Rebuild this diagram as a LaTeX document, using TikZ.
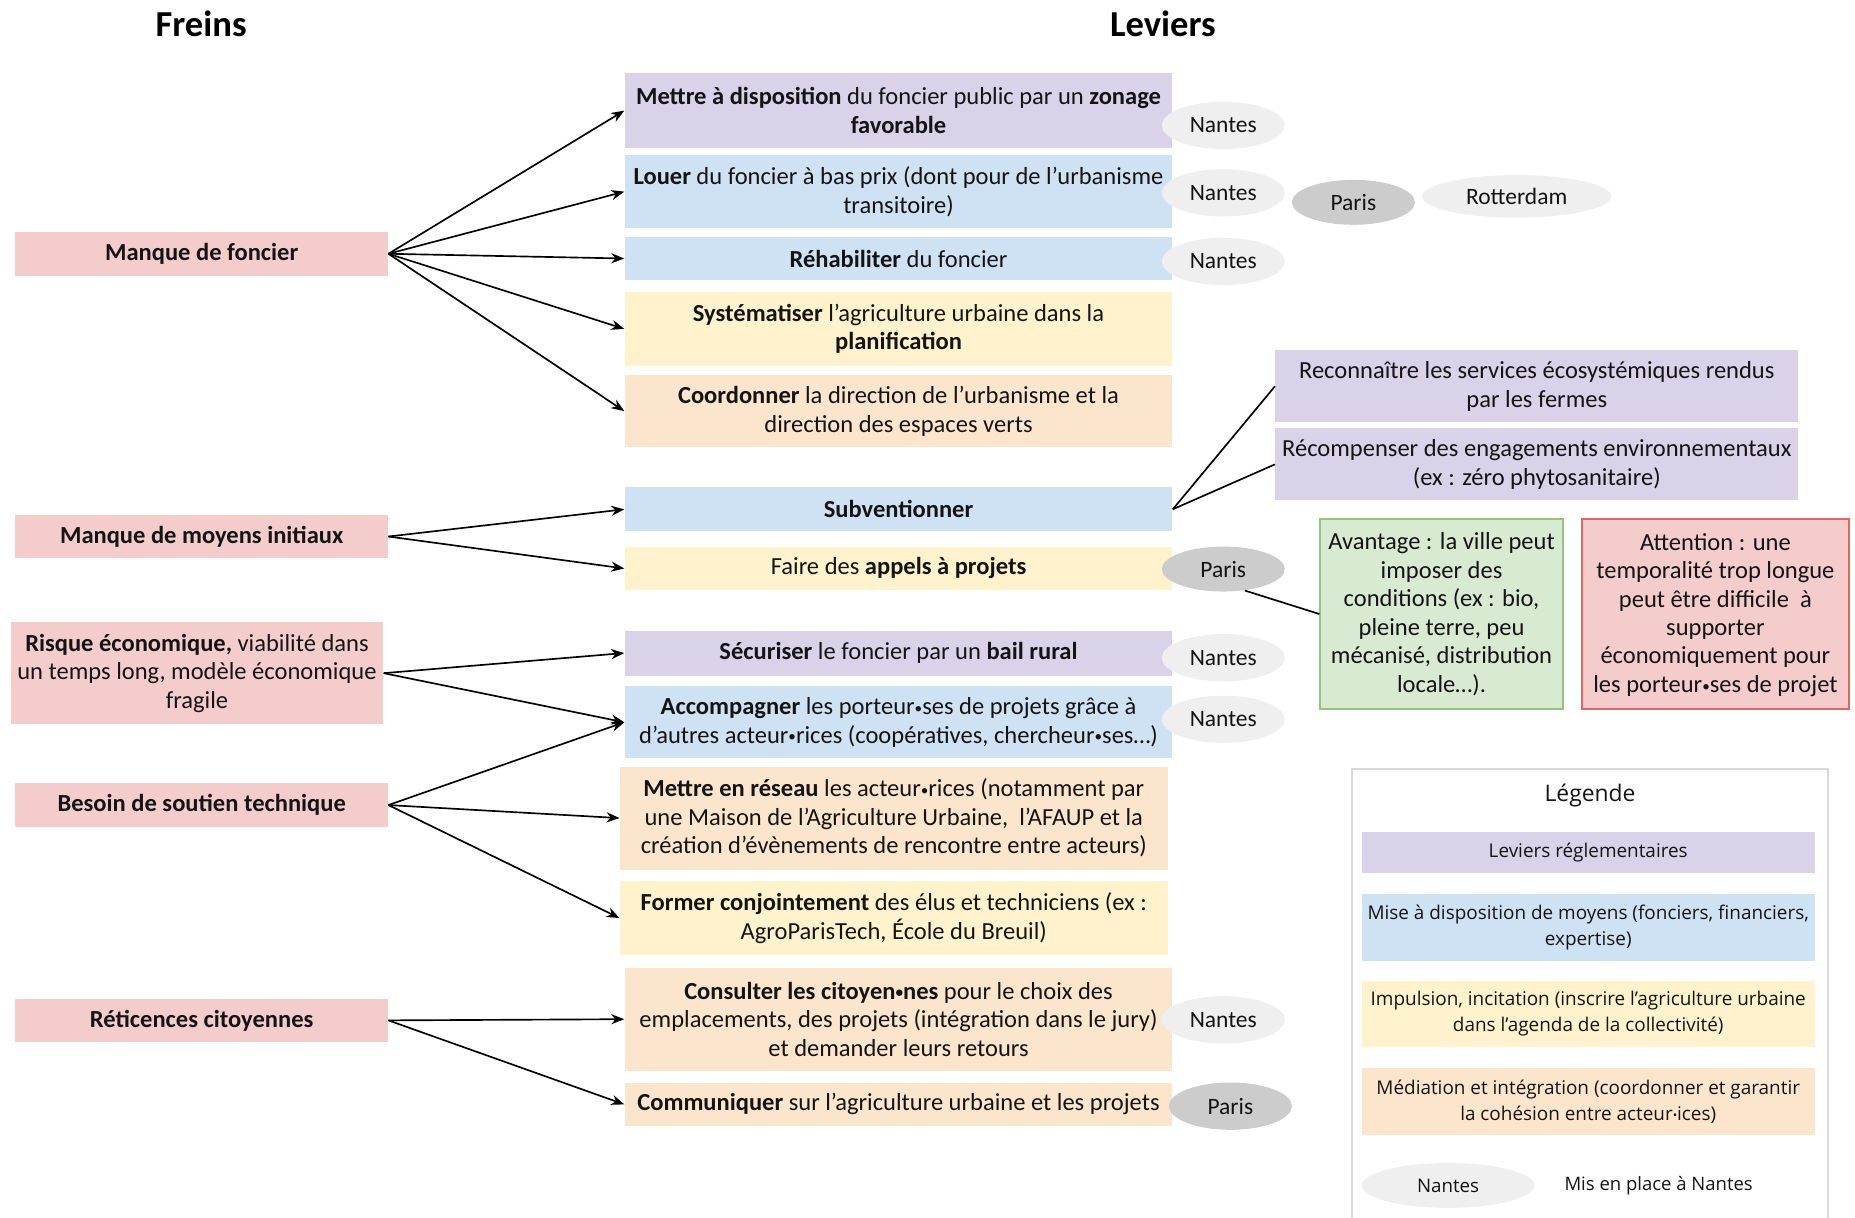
\documentclass[tikz,border=0pt]{standalone}
\usepackage{fontspec}
\setmainfont{Carlito}
\newfontfamily\legendfont{Open Sans}
\usepackage{tikz}
\usetikzlibrary{arrows.meta,positioning,shapes.geometric}
\newcommand{\midpt}{\raisebox{0.12ex}{\scalebox{0.62}{•}}}
\definecolor{freinc}{HTML}{F4CCCC}
\definecolor{reglec}{HTML}{D9D2E9}
\definecolor{moyenc}{HTML}{CFE2F3}
\definecolor{impulsc}{HTML}{FFF2CC}
\definecolor{mediac}{HTML}{FCE5CD}
\definecolor{avantc}{HTML}{D9EAD3}
\definecolor{avantbordc}{HTML}{93C47D}
\definecolor{attentbordc}{HTML}{E06666}
\definecolor{nantesc}{HTML}{EFEFEF}
\definecolor{parisc}{HTML}{CCCCCC}
\definecolor{legendc}{HTML}{D9D9D9}
\tikzset{
  basenode/.style={rectangle, inner sep=0pt, align=center, text=black!92,
    minimum width=9.26cm, font=\fontsize{11.8}{13.7}\selectfont},
  freinnode/.style={basenode, fill=freinc, minimum width=6.3cm, minimum height=0.74cm},
  reglenode/.style={basenode, fill=reglec},
  moyennode/.style={basenode, fill=moyenc},
  impulsnode/.style={basenode, fill=impulsc},
  medianode/.style={basenode, fill=mediac},
  villenode/.style={ellipse, inner sep=0pt, fill=nantesc, text=black!92,
    minimum width=2.08cm, minimum height=0.8cm, font=\fontsize{11.3}{13.7}\selectfont},
  parisnode/.style={villenode, fill=parisc},
  titlenode/.style={font=\fontsize{17.6}{20}\selectfont\bfseries},
  legendnode/.style={rectangle, inner sep=0pt, align=center, text=black!92,
    minimum width=7.66cm, minimum height=1.12cm, font=\legendfont\fontsize{9.1}{12.6}\selectfont},
  arrowedge/.style={-{Stealth[length=2.2mm, width=1.7mm]}, draw=black, line width=0.8pt},
  plainedge/.style={draw=black, line width=0.8pt},
}
\begin{document}
\begin{tikzpicture}[x=0.02cm, y=-0.02cm]
  \useasboundingbox (0,0) rectangle (1568,1029);
  \node[titlenode] (freins) at (170,20) {Freins};
  \node[titlenode] (leviers) at (983,20) {Leviers};

  \node[freinnode] (foncier) at (170.5,214.5) {\textbf{Manque de foncier}};
  \node[freinnode] (moyens) at (170.5,453.5) {\textbf{Manque de moyens initiaux}};
  \node[freinnode, minimum height=1.72cm] (risque) at (166.5,569) {\textbf{Risque économique,} viabilité dans\\un temps long, modèle économique\\fragile};
  \node[freinnode] (soutien) at (170.5,680.5) {\textbf{Besoin de soutien technique}};
  \node[freinnode] (reticence) at (170.5,862.5) {\textbf{Réticences citoyennes}};

  \node[reglenode, minimum height=1.26cm] (zonage) at (759.5,93.5) {\textbf{Mettre à disposition} du foncier public par un \textbf{zonage}\\\textbf{favorable}};
  \node[moyennode, minimum height=1.24cm] (louer) at (759.5,162) {\textbf{Louer} du foncier à bas prix (dont pour de l’urbanisme\\transitoire)};
  \node[moyennode, minimum height=0.74cm] (rehab) at (759.5,218.5) {\textbf{Réhabiliter} du foncier};
  \node[impulsnode, minimum height=1.24cm] (planif) at (759.5,278) {\textbf{Systématiser} l’agriculture urbaine dans la\\\textbf{planification}};
  \node[medianode, minimum height=1.22cm] (coord) at (759.5,347.5) {\textbf{Coordonner} la direction de l’urbanisme et la\\direction des espaces verts};
  \node[moyennode, minimum height=0.74cm] (subv) at (759.5,430.5) {\textbf{Subventionner}};
  \node[impulsnode, minimum height=0.74cm] (appels) at (759.5,480.5) {Faire des \textbf{appels à projets}};
  \node[reglenode, minimum height=0.76cm] (bail) at (759.5,552) {\textbf{Sécuriser} le foncier par un \textbf{bail rural}};
  \node[moyennode, minimum height=1.22cm] (accomp) at (759.5,610.5) {\textbf{Accompagner} les porteur\midpt ses de projets grâce à\\d’autres acteur\midpt rices (coopératives, chercheur\midpt ses…)};
  \node[medianode, minimum height=1.74cm] (reseau) at (755.5,691.5) {\textbf{Mettre en réseau} les acteur\midpt rices (notamment par\\une Maison de l’Agriculture Urbaine,\ \ l’AFAUP et la\\création d’évènements de rencontre entre acteurs)};
  \node[impulsnode, minimum height=1.24cm] (former) at (755.5,776) {\textbf{Former conjointement} des élus et techniciens (ex~:\\AgroParisTech, École du Breuil)};
  \node[medianode, minimum height=1.74cm] (consult) at (759.5,861.5) {\textbf{Consulter les citoyen\midpt nes} pour le choix des\\emplacements, des projets (intégration dans le jury)\\et demander leurs retours};
  \node[medianode, minimum height=0.74cm] (commu) at (759.5,933.5) {\textbf{Communiquer} sur l’agriculture urbaine et les projets};

  \node[villenode] (nantes1) at (1034,106) {Nantes};
  \node[villenode] (nantes2) at (1034,163) {Nantes};
  \node[parisnode, minimum height=0.76cm] (paris1) at (1144,171) {Paris};
  \node[villenode, minimum width=3.2cm, minimum height=0.72cm] (rotterdam) at (1282,166) {Rotterdam};
  \node[villenode] (nantes3) at (1034,221) {Nantes};
  \node[parisnode, minimum height=0.76cm] (paris2) at (1034,481) {Paris};
  \node[villenode] (nantes4) at (1034,556) {Nantes};
  \node[villenode] (nantes5) at (1034,608) {Nantes};
  \node[villenode] (nantes6) at (1034,862) {Nantes};
  \node[parisnode] (paris3) at (1040,935) {Paris};

  \node[reglenode, minimum width=8.84cm, minimum height=1.22cm] (services) at (1299,326.5) {Reconnaître les services écosystémiques rendus\\par les fermes};
  \node[reglenode, minimum width=8.84cm, minimum height=1.22cm] (engage) at (1299,392.5) {Récompenser des engagements environnementaux\\(ex~: zéro phytosanitaire)};
  \node[basenode, fill=avantc, draw=avantbordc, line width=0.9pt, minimum width=4.1cm, minimum height=3.2cm] (avantage) at (1218.5,519) {Avantage~: la ville peut\\imposer des\\conditions (ex~: bio,\\pleine terre, peu\\mécanisé, distribution\\locale…).};
  \node[basenode, fill=freinc, draw=attentbordc, line width=0.9pt, minimum width=4.52cm, minimum height=3.2cm] (attention) at (1450,519) {\raisebox{0pt}[9pt][0pt]{}Attention~: une\\temporalité trop longue\\peut être difficile\ \ à\\supporter\\économiquement pour\\les porteur\midpt ses de projet};

  \node[draw=legendc, line width=1pt, inner sep=0pt, minimum width=8.04cm, minimum height=8.0cm] (legende) at (1344,850) {};
  \node[font=\legendfont\fontsize{11}{13}\selectfont, text=black!92] (legtitre) at (1344,672) {Légende};
  \node[legendnode, fill=reglec, minimum height=0.7cm] (legregle) at (1342.5,720.5) {Leviers réglementaires};
  \node[legendnode, fill=moyenc] (legmoyen) at (1342.5,784) {Mise à disposition de moyens (fonciers, financiers,\\expertise)};
  \node[legendnode, fill=impulsc] (legimpuls) at (1342.5,857) {Impulsion, incitation (inscrire l’agriculture urbaine\\dans l’agenda de la collectivité)};
  \node[legendnode, fill=mediac] (legmedia) at (1342.5,931) {Médiation et intégration (coordonner et garantir\\la cohésion entre acteur\midpt ices)};
  \node[villenode, minimum width=2.92cm, minimum height=0.76cm, font=\legendfont\fontsize{9}{12}\selectfont] (legville) at (1224,1002) {Nantes};
  \node[font=\legendfont\fontsize{8.9}{12}\selectfont, text=black!92] (legtexte) at (1402,1002) {Mis en place à Nantes};

  \draw[arrowedge] (foncier.east) -- (zonage.west);
  \draw[arrowedge] (foncier.east) -- (louer.west);
  \draw[arrowedge] (foncier.east) -- (rehab.west);
  \draw[arrowedge] (foncier.east) -- (planif.west);
  \draw[arrowedge] (foncier.east) -- (coord.west);
  \draw[arrowedge] (moyens.east) -- (subv.west);
  \draw[arrowedge] (moyens.east) -- (appels.west);
  \draw[arrowedge] (risque.east) -- (bail.west);
  \draw[arrowedge] (risque.east) -- (accomp.west);
  \draw[arrowedge] (soutien.east) -- (accomp.west);
  \draw[arrowedge] (soutien.east) -- (reseau.west);
  \draw[arrowedge] (soutien.east) -- (former.west);
  \draw[arrowedge] (reticence.east) -- (consult.west);
  \draw[arrowedge] (reticence.east) -- (commu.west);
  \draw[plainedge] (subv.east) -- (services.west);
  \draw[plainedge] (subv.east) -- (engage.west);
  \draw[plainedge] (paris2.-45) -- (avantage.west);
\end{tikzpicture}
\end{document}
